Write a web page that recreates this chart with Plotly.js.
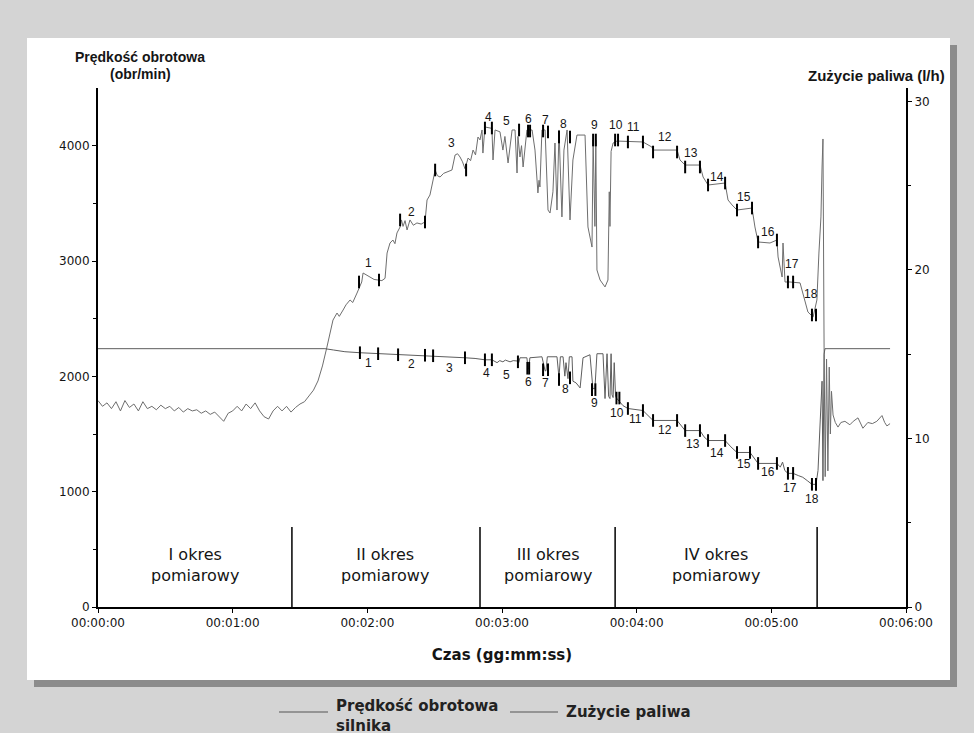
<!DOCTYPE html>
<html>
<head>
<meta charset="utf-8">
<script src="https://cdn.plot.ly/plotly-3.0.1.min.js"></script>
<style>html,body{margin:0;padding:0;background:#d4d4d4;}#chart{width:974px;height:733px;}</style>
</head>
<body>
<div id="chart"></div>
<script>
// ---------- DATA ----------
// Engine speed (rpm) vs time (s)
const speedTime = [
  0,2,4,6,8,10,12,14,16,18,20,22,24,26,28,30,32,34,36,38,40,42,44,46,48,50,52,54,56,58,60,62,64,66,68,70,72,74,76,78,80,82,84,86,88,90,92,94,
  96,98,100,102,103.4,104.7,106.5,107.5,109.2,110.5,
  112.3,113.5,115.4,116.7,117.5,118.1,119.5,121.2,123,124.8,
  126.5,127.9,128.8,130.1,131.4,132.3,133.2,134.6,135.2,135.9,
  136.8,137.7,139.0,140.5,142.1,144,145.7,146.6,147.9,149.3,
  150.2,151.2,152.4,154,155.5,157.7,159.1,160.2,161.3,162.4,
  163.5,164.9,166,167.1,168.2,169.3,170.2,171.1,171.5,172.4,
  175.5,176.0,176.9,179.1,180.4,181.3,182.7,184.5,185.8,186.7,
  187.1,188.0,188.7,189.4,191.1,193.4,194.7,196.0,196.5,196.9,
  197.8,199.2,200.5,201.4,202.7,203.6,204.5,205.4,206.7,207.6,
  209.0,210.3,211.6,213.4,217.0,218.3,220.1,220.6,221.4,221.8,222.3,223.7,
  225.9,227.2,227.8,228.1,228.6,229.5,231.2,242.8,246.8,247.3,258.0,259.3,
  261.6,268.2,269.6,271.8,279.4,280.7,282.5,284.7,291.4,292.7,
  294.1,299.4,302.5,303.0,304.8,305.2,306.1,308.3,312.8,314.1,
  316.3,318.6,320.3,321.2,322.1,322.6,323.0,
  323.5,324.0,324.6,325.2,325.8,326.3,326.8,327.5,328.5,329.7,331,332.8,335,336.5,338.6,340.8,343,345,347,349.3,350.5,351.5,352.9
];
const speedRpm = [
  1790,1740,1770,1720,1780,1700,1790,1730,1760,1700,1780,1720,1740,1710,1750,1720,1740,1700,1730,1690,1720,1700,1710,1680,1700,1670,1690,1650,1610,1680,1700,1740,1700,1760,1720,1770,1700,1650,1630,1700,1740,1700,1740,1690,1730,1760,1780,1830,
  1880,1960,2090,2254,2376,2488,2549,2520,2575,2620,
  2662,2640,2722,2775,2818,2896,2880,2861,2840,2835,
  2830,2850,3069,3156,3182,3150,3243,3295,3356,3300,
  3350,3269,3356,3310,3330,3320,3339,3529,3572,3702,
  3789,3740,3728,3760,3772,3789,3919,3930,3902,3860,
  3800,3893,3870,3962,3920,4075,4050,4136,3936,4162,
  4150,3876,4136,4120,3962,4080,3850,4136,4136,3763,
  4080,3902,4000,3815,4136,4136,3962,3590,3700,3642,
  4136,4136,3442,3416,3600,4023,3442,4136,3382,3962,
  4136,3356,3876,4092,4092,3295,3121,4049,3300,4049,2922,2835,
  2775,2835,3600,3300,3950,4023,4040,4032,3988,3962,3962,3876,
  3832,3832,3728,3659,3676,3529,3486,3442,3459,3295,
  3165,3156,3182,3035,2861,3156,2818,2818,2810,2722,
  2558,2514,2662,3069,3382,3815,4058,
  2254,1130,2150,1180,2080,1500,1870,1665,1600,1560,1600,1610,1580,1610,1640,1550,1600,1590,1610,1660,1600,1570,1590
];
// Fuel consumption (l/h) vs time (s)
const fuelTime = [
  0,101.1,105,110,116.7,120,124.8,129,133.7,140,
  145.7,149.3,156,163.5,168,172.4,175.5,177.8,179,180.4,
  181.5,183.6,185,186.7,187.5,188,191.1,191.6,192.0,192.4,
  197.8,199.2,199.6,200.2,204.5,205.4,206,207.2,208,208.5,
  209.4,210,211.2,211.6,213,214.8,216.1,219.2,220.5,221.4,
  222.3,225.0,225.9,226.8,227.5,228.1,228.6,229.0,229.5,230.0,
  230.6,231.2,233.9,236.1,242.8,245,247.3,258.0,261.6,268.2,
  270,271.8,279.4,282,284.7,290.5,292,294.1,302.5,304,
  305,306,307.4,309.7,312,314,316,318.1,319.9,320.8,
  321.8,322.6,323.0,323.5,323.9,352.9
];
const fuelLh = [
  15.33,15.33,15.25,15.15,15.09,15.07,15.03,15.0,14.97,14.97,
  14.94,14.91,14.85,14.79,14.75,14.67,14.67,14.50,14.62,14.55,
  14.65,14.55,14.62,14.60,14.50,14.79,14.79,14.14,14.14,14.79,
  14.85,14.02,14.02,14.85,14.85,13.60,14.85,14.85,13.70,14.50,
  13.55,14.85,14.85,13.40,13.30,13.00,14.79,14.97,12.96,12.96,
  15.03,15.03,12.37,15.03,12.50,12.37,15.03,12.60,12.43,14.50,
  12.50,12.37,11.95,11.78,11.66,11.40,11.07,11.07,10.47,10.47,
  10.10,9.88,9.88,9.50,9.17,9.17,8.90,8.52,8.52,8.30,
  8.60,8.10,7.93,7.93,7.80,7.70,7.50,7.28,7.28,8.10,
  11.10,13.40,7.50,15.00,15.33,15.33
];
// Measurement-point markers
const speedMarkTime = [116.3,125.2,134.6,145.7,150.2,164.0,172.4,175.5,187.6,191.6,192.5,198.3,200.5,205.4,210.3,220.6,221.8,230.4,231.7,236.1,242.8,247.3,258.0,261.6,268.2,271.8,279.4,284.7,291.4,294.1,302.5,307.4,309.7,318.1,319.9];
const speedMarkRpm  = [2818,2835,3356,3338,3789,3789,4153,4153,4136,4127,4127,4127,4119,4075,4075,4049,4049,4049,4049,4032,4032,3945,3945,3815,3815,3659,3676,3442,3459,3165,3182,2818,2818,2532,2532];
const fuelMarkTime  = [116.7,124.8,133.7,145.7,149.3,163.5,172.4,175.5,187.1,191.3,192.1,198.3,200.5,205.4,210.3,220.1,221.6,231.0,232.3,236.1,242.8,247.3,258.0,261.6,268.2,271.8,279.4,284.7,290.5,294.1,302.5,307.4,309.7,318.1,319.9];
const fuelMarkLh    = [15.09,15.03,14.97,14.94,14.91,14.79,14.67,14.67,14.55,14.17,14.17,14.08,14.08,13.50,13.60,12.90,12.90,12.40,12.40,11.78,11.66,11.07,11.07,10.47,10.47,9.88,9.88,9.17,9.17,8.52,8.52,7.93,7.93,7.28,7.28];
// Point numbers
const pointNumbers   = ['1','2','3','4','5','6','7','8','9','10','11','12','13','14','15','16','17','18'];
const speedLabelTime = [120.3,139.5,157.3,173.8,182.2,191.6,199.2,207.6,221.0,230.8,238.8,252.6,264.2,275.8,287.8,298.5,309.2,317.7];
const speedLabelRpm  = [2983,3425,4023,4249,4214,4231,4223,4188,4179,4179,4162,4075,3936,3728,3555,3251,2974,2714];
const fuelLabelTime  = [120.3,139.5,156.8,173.3,181.8,191.6,199.6,208.1,221.0,231.2,239.3,252.6,265.1,275.8,287.8,298.5,308.3,318.1];
const fuelLabelLh    = [14.50,14.44,14.20,13.91,13.79,13.37,13.31,12.96,12.13,11.54,11.18,10.53,9.70,9.11,8.46,7.99,7.04,6.39];
// Measurement periods
const periodBounds  = [86.4,170.2,230.4,320.4];
const periodCenters = [43.2,127.9,200.5,275.4];
const periodLabels  = ['I okres<br>pomiarowy','II okres<br>pomiarowy','III okres<br>pomiarowy','IV okres<br>pomiarowy'];
// Axis ticks
const timeTickVals = [0,60,120,180,240,300,360];
const timeTickText = ['00:00:00','00:01:00','00:02:00','00:03:00','00:04:00','00:05:00','00:06:00'];
const seriesNames  = ['Prędkość obrotowa<br>silnika','Zużycie paliwa'];

// ---------- HELPERS (pixel -> paper) ----------
const L = 98, R = 906, T = 88, B = 607;
const px = x => (x - L) / (R - L);
const py = y => (B - y) / (B - T);
const FONT = 'DejaVu Sans, Liberation Sans, sans-serif';
const ARIAL = 'Liberation Sans, Arial, sans-serif';
const INK = '#151515';

const traces = [
  {x: speedTime, y: speedRpm, type: 'scatter', mode: 'lines', name: seriesNames[0],
   line: {color: '#6e6e6e', width: 1}, yaxis: 'y', hoverinfo: 'skip', showlegend: false},
  {x: fuelTime, y: fuelLh, type: 'scatter', mode: 'lines', name: seriesNames[1],
   line: {color: '#5e5e5e', width: 1}, yaxis: 'y2', hoverinfo: 'skip', showlegend: false},
  {x: speedMarkTime, y: speedMarkRpm, type: 'scatter', mode: 'markers', yaxis: 'y', showlegend: false,
   marker: {symbol: 'line-ns', size: 9, line: {color: '#000', width: 2}}, hoverinfo: 'skip'},
  {x: fuelMarkTime, y: fuelMarkLh, type: 'scatter', mode: 'markers', yaxis: 'y2', showlegend: false,
   marker: {symbol: 'line-ns', size: 9, line: {color: '#000', width: 2}}, hoverinfo: 'skip'}
];

const shapes = [
  // shadow + white panel
  {type: 'rect', xref: 'paper', yref: 'paper', layer: 'below', x0: px(34), x1: px(957), y0: py(687), y1: py(45),
   fillcolor: '#8c8c8c', line: {width: 0}},
  {type: 'rect', xref: 'paper', yref: 'paper', layer: 'below', x0: px(27), x1: px(950), y0: py(680), y1: py(38),
   fillcolor: '#ffffff', line: {width: 0}},
  // legend samples
  {type: 'line', xref: 'paper', yref: 'paper', x0: px(279), x1: px(328), y0: py(712), y1: py(712), line: {color: '#555', width: 1}},
  {type: 'line', xref: 'paper', yref: 'paper', x0: px(510), x1: px(558), y0: py(712), y1: py(712), line: {color: '#555', width: 1}}
];
periodBounds.forEach(t => shapes.push({type: 'line', xref: 'x', yref: 'y', x0: t, x1: t, y0: 0, y1: 694,
  line: {color: '#000', width: 1.5}}));

const annotations = [];
pointNumbers.forEach((n, i) => {
  annotations.push({x: speedLabelTime[i], y: speedLabelRpm[i], xref: 'x', yref: 'y', text: n, showarrow: false,
    font: {family: ARIAL, size: 12, color: INK}, xanchor: 'center', yanchor: 'middle'});
  annotations.push({x: fuelLabelTime[i], y: fuelLabelLh[i], xref: 'x', yref: 'y2', text: n, showarrow: false,
    font: {family: ARIAL, size: 12, color: INK}, xanchor: 'center', yanchor: 'middle'});
});
periodLabels.forEach((s, i) => annotations.push({x: periodCenters[i], y: py(565), xref: 'x', yref: 'paper',
  text: s, showarrow: false, align: 'center', xanchor: 'center', yanchor: 'middle',
  font: {family: FONT, size: 16, color: INK}}));
// axis titles (horizontal, at top of axes)
annotations.push({x: px(140), y: py(57), xref: 'paper', yref: 'paper', text: '<b>Prędkość obrotowa</b>', showarrow: false,
  xanchor: 'center', yanchor: 'middle', font: {family: ARIAL, size: 14, color: INK}});
annotations.push({x: px(140), y: py(74), xref: 'paper', yref: 'paper', text: '<b>(obr/min)</b>', showarrow: false,
  xanchor: 'center', yanchor: 'middle', font: {family: ARIAL, size: 14, color: INK}});
annotations.push({x: px(947), y: py(75), xref: 'paper', yref: 'paper', text: '<b>Zużycie paliwa (l/h)</b>', showarrow: false,
  xanchor: 'right', yanchor: 'middle', font: {family: ARIAL, size: 15, color: INK}});
// legend texts
annotations.push({x: px(334), y: py(716), xref: 'paper', yref: 'paper', text: '<b>' + seriesNames[0] + '</b>', showarrow: false,
  xanchor: 'left', yanchor: 'middle', align: 'left', font: {family: FONT, size: 15, color: '#222'}});
annotations.push({x: px(564), y: py(712), xref: 'paper', yref: 'paper', text: '<b>' + seriesNames[1] + '</b>', showarrow: false,
  xanchor: 'left', yanchor: 'middle', align: 'left', font: {family: FONT, size: 15, color: '#222'}});

const layout = {
  width: 974, height: 733, autosize: false,
  margin: {l: L, r: 974 - R, t: T, b: 733 - B, pad: 0},
  paper_bgcolor: '#d4d4d4', plot_bgcolor: 'rgba(0,0,0,0)',
  showlegend: false,
  xaxis: {range: [0, 360], tickvals: timeTickVals, ticktext: timeTickText, ticks: 'outside', ticklen: 4,
    tickcolor: '#000', showline: true, linecolor: '#000', linewidth: 2, showgrid: false, zeroline: false,
    tickfont: {family: FONT, size: 12, color: INK},
    title: {text: '<b>Czas (gg:mm:ss)</b>', font: {family: FONT, size: 15, color: INK}, standoff: 20}},
  yaxis: {range: [0, 4500], tickvals: [0, 1000, 2000, 3000, 4000], ticks: 'outside', ticklen: 4, tickcolor: '#000',
    minor: {tickvals: [500, 1500, 2500, 3500], ticks: 'outside', ticklen: 3, tickcolor: '#000'},
    showline: true, linecolor: '#000', linewidth: 2, showgrid: false, zeroline: false,
    tickfont: {family: FONT, size: 12, color: INK}},
  yaxis2: {range: [0, 30.8], overlaying: 'y', side: 'right', tickvals: [0, 10, 20, 30], ticks: 'outside', ticklen: 4,
    tickcolor: '#000', minor: {tickvals: [5, 15, 25], ticks: 'outside', ticklen: 3, tickcolor: '#000'},
    showline: true, linecolor: '#000', linewidth: 2, showgrid: false, zeroline: false,
    tickfont: {family: FONT, size: 12, color: INK}},
  shapes: shapes,
  annotations: annotations
};

Plotly.newPlot('chart', traces, layout, {staticPlot: true, displayModeBar: false});
</script>
</body>
</html>
